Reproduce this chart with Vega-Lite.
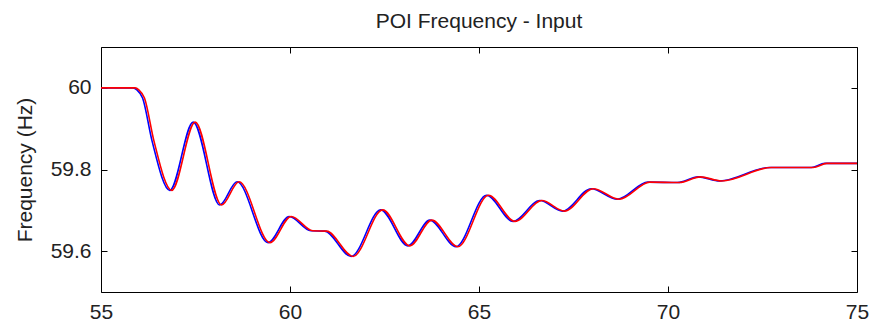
{
  "$schema": "https://vega.github.io/schema/vega-lite/v6.json",
  "autosize": {"type": "none"},
  "padding": {"left": 101, "top": 47, "right": 12, "bottom": 31},
  "width": 756,
  "height": 245,
  "background": "#ffffff",
  "title": {"text": "POI Frequency - Input", "font": "Liberation Sans", "fontSize": 21, "fontWeight": "normal", "color": "#222222", "offset": 15, "anchor": "middle"},
  "config": {
    "view": {"stroke": "#000000", "strokeWidth": 1},
    "axis": {"grid": false, "domain": false, "tickColor": "#000000", "tickSize": -6, "tickWidth": 1, "labelFont": "Liberation Sans", "labelFontSize": 21, "labelColor": "#222222", "titleFont": "Liberation Sans", "titleFontSize": 21, "titleFontWeight": "normal", "titleColor": "#222222"}
  },
  "data": {"values": [
    {"t": 55.0, "f": 60.0, "s": "blue"},
    {"t": 55.85, "f": 60.0, "s": "blue"},
    {"t": 55.95, "f": 59.995, "s": "blue"},
    {"t": 56.1, "f": 59.975, "s": "blue"},
    {"t": 56.35, "f": 59.87, "s": "blue"},
    {"t": 56.82, "f": 59.749, "s": "blue"},
    {"t": 57.44, "f": 59.916, "s": "blue"},
    {"t": 58.14, "f": 59.713, "s": "blue"},
    {"t": 58.6, "f": 59.77, "s": "blue"},
    {"t": 59.42, "f": 59.621, "s": "blue"},
    {"t": 59.98, "f": 59.685, "s": "blue"},
    {"t": 60.55, "f": 59.65, "s": "blue"},
    {"t": 60.92, "f": 59.649, "s": "blue"},
    {"t": 61.62, "f": 59.587, "s": "blue"},
    {"t": 62.4, "f": 59.701, "s": "blue"},
    {"t": 63.12, "f": 59.613, "s": "blue"},
    {"t": 63.7, "f": 59.676, "s": "blue"},
    {"t": 64.39, "f": 59.611, "s": "blue"},
    {"t": 65.2, "f": 59.737, "s": "blue"},
    {"t": 65.9, "f": 59.673, "s": "blue"},
    {"t": 66.61, "f": 59.724, "s": "blue"},
    {"t": 67.21, "f": 59.698, "s": "blue"},
    {"t": 67.97, "f": 59.753, "s": "blue"},
    {"t": 68.66, "f": 59.727, "s": "blue"},
    {"t": 69.47, "f": 59.769, "s": "blue"},
    {"t": 70.25, "f": 59.768, "s": "blue"},
    {"t": 70.8, "f": 59.782, "s": "blue"},
    {"t": 71.37, "f": 59.772, "s": "blue"},
    {"t": 72.69, "f": 59.805, "s": "blue"},
    {"t": 73.79, "f": 59.805, "s": "blue"},
    {"t": 74.15, "f": 59.815, "s": "blue"},
    {"t": 75.0, "f": 59.815, "s": "blue"},
    {"t": 55.0, "f": 60.0, "s": "red"},
    {"t": 55.9, "f": 60.0, "s": "red"},
    {"t": 56.0, "f": 59.995, "s": "red"},
    {"t": 56.15, "f": 59.975, "s": "red"},
    {"t": 56.4, "f": 59.87, "s": "red"},
    {"t": 56.87, "f": 59.749, "s": "red"},
    {"t": 57.49, "f": 59.916, "s": "red"},
    {"t": 58.19, "f": 59.713, "s": "red"},
    {"t": 58.65, "f": 59.77, "s": "red"},
    {"t": 59.47, "f": 59.621, "s": "red"},
    {"t": 60.03, "f": 59.685, "s": "red"},
    {"t": 60.6, "f": 59.65, "s": "red"},
    {"t": 60.97, "f": 59.649, "s": "red"},
    {"t": 61.67, "f": 59.587, "s": "red"},
    {"t": 62.45, "f": 59.701, "s": "red"},
    {"t": 63.17, "f": 59.613, "s": "red"},
    {"t": 63.75, "f": 59.676, "s": "red"},
    {"t": 64.44, "f": 59.611, "s": "red"},
    {"t": 65.25, "f": 59.737, "s": "red"},
    {"t": 65.95, "f": 59.673, "s": "red"},
    {"t": 66.66, "f": 59.724, "s": "red"},
    {"t": 67.26, "f": 59.698, "s": "red"},
    {"t": 68.02, "f": 59.753, "s": "red"},
    {"t": 68.71, "f": 59.727, "s": "red"},
    {"t": 69.52, "f": 59.769, "s": "red"},
    {"t": 70.3, "f": 59.768, "s": "red"},
    {"t": 70.85, "f": 59.782, "s": "red"},
    {"t": 71.42, "f": 59.772, "s": "red"},
    {"t": 72.74, "f": 59.805, "s": "red"},
    {"t": 73.84, "f": 59.805, "s": "red"},
    {"t": 74.2, "f": 59.815, "s": "red"},
    {"t": 75.0, "f": 59.815, "s": "red"}
  ]},
  "resolve": {"axis": {"x": "independent", "y": "independent"}},
  "layer": [
    {
      "transform": [{"filter": "datum.s === 'blue'"}],
      "mark": {"type": "line", "interpolate": "monotone", "color": "#0000ff", "strokeWidth": 1.6, "clip": true},
      "encoding": {
        "x": {"field": "t", "type": "quantitative", "scale": {"domain": [55, 75], "nice": false, "zero": false}, "axis": {"orient": "bottom", "values": [55, 60, 65, 70, 75], "title": null, "labelPadding": 15, "labelFlush": false}},
        "y": {"field": "f", "type": "quantitative", "scale": {"domain": [59.5, 60.1], "nice": false, "zero": false}, "axis": {"orient": "left", "values": [59.6, 59.8, 60.0], "format": ".1~f", "title": "Frequency (Hz)", "labelPadding": 16, "titleX": -76, "titleBaseline": "middle", "titleAngle": -90}}
      }
    },
    {
      "transform": [{"filter": "datum.s === 'red'"}],
      "mark": {"type": "line", "interpolate": "monotone", "color": "#ff0000", "strokeWidth": 1.6, "clip": true},
      "encoding": {
        "x": {"field": "t", "type": "quantitative", "axis": {"orient": "top", "values": [55, 60, 65, 70, 75], "labels": false, "title": null}},
        "y": {"field": "f", "type": "quantitative", "axis": {"orient": "right", "values": [59.6, 59.8, 60.0], "labels": false, "title": null}}
      }
    }
  ]
}
